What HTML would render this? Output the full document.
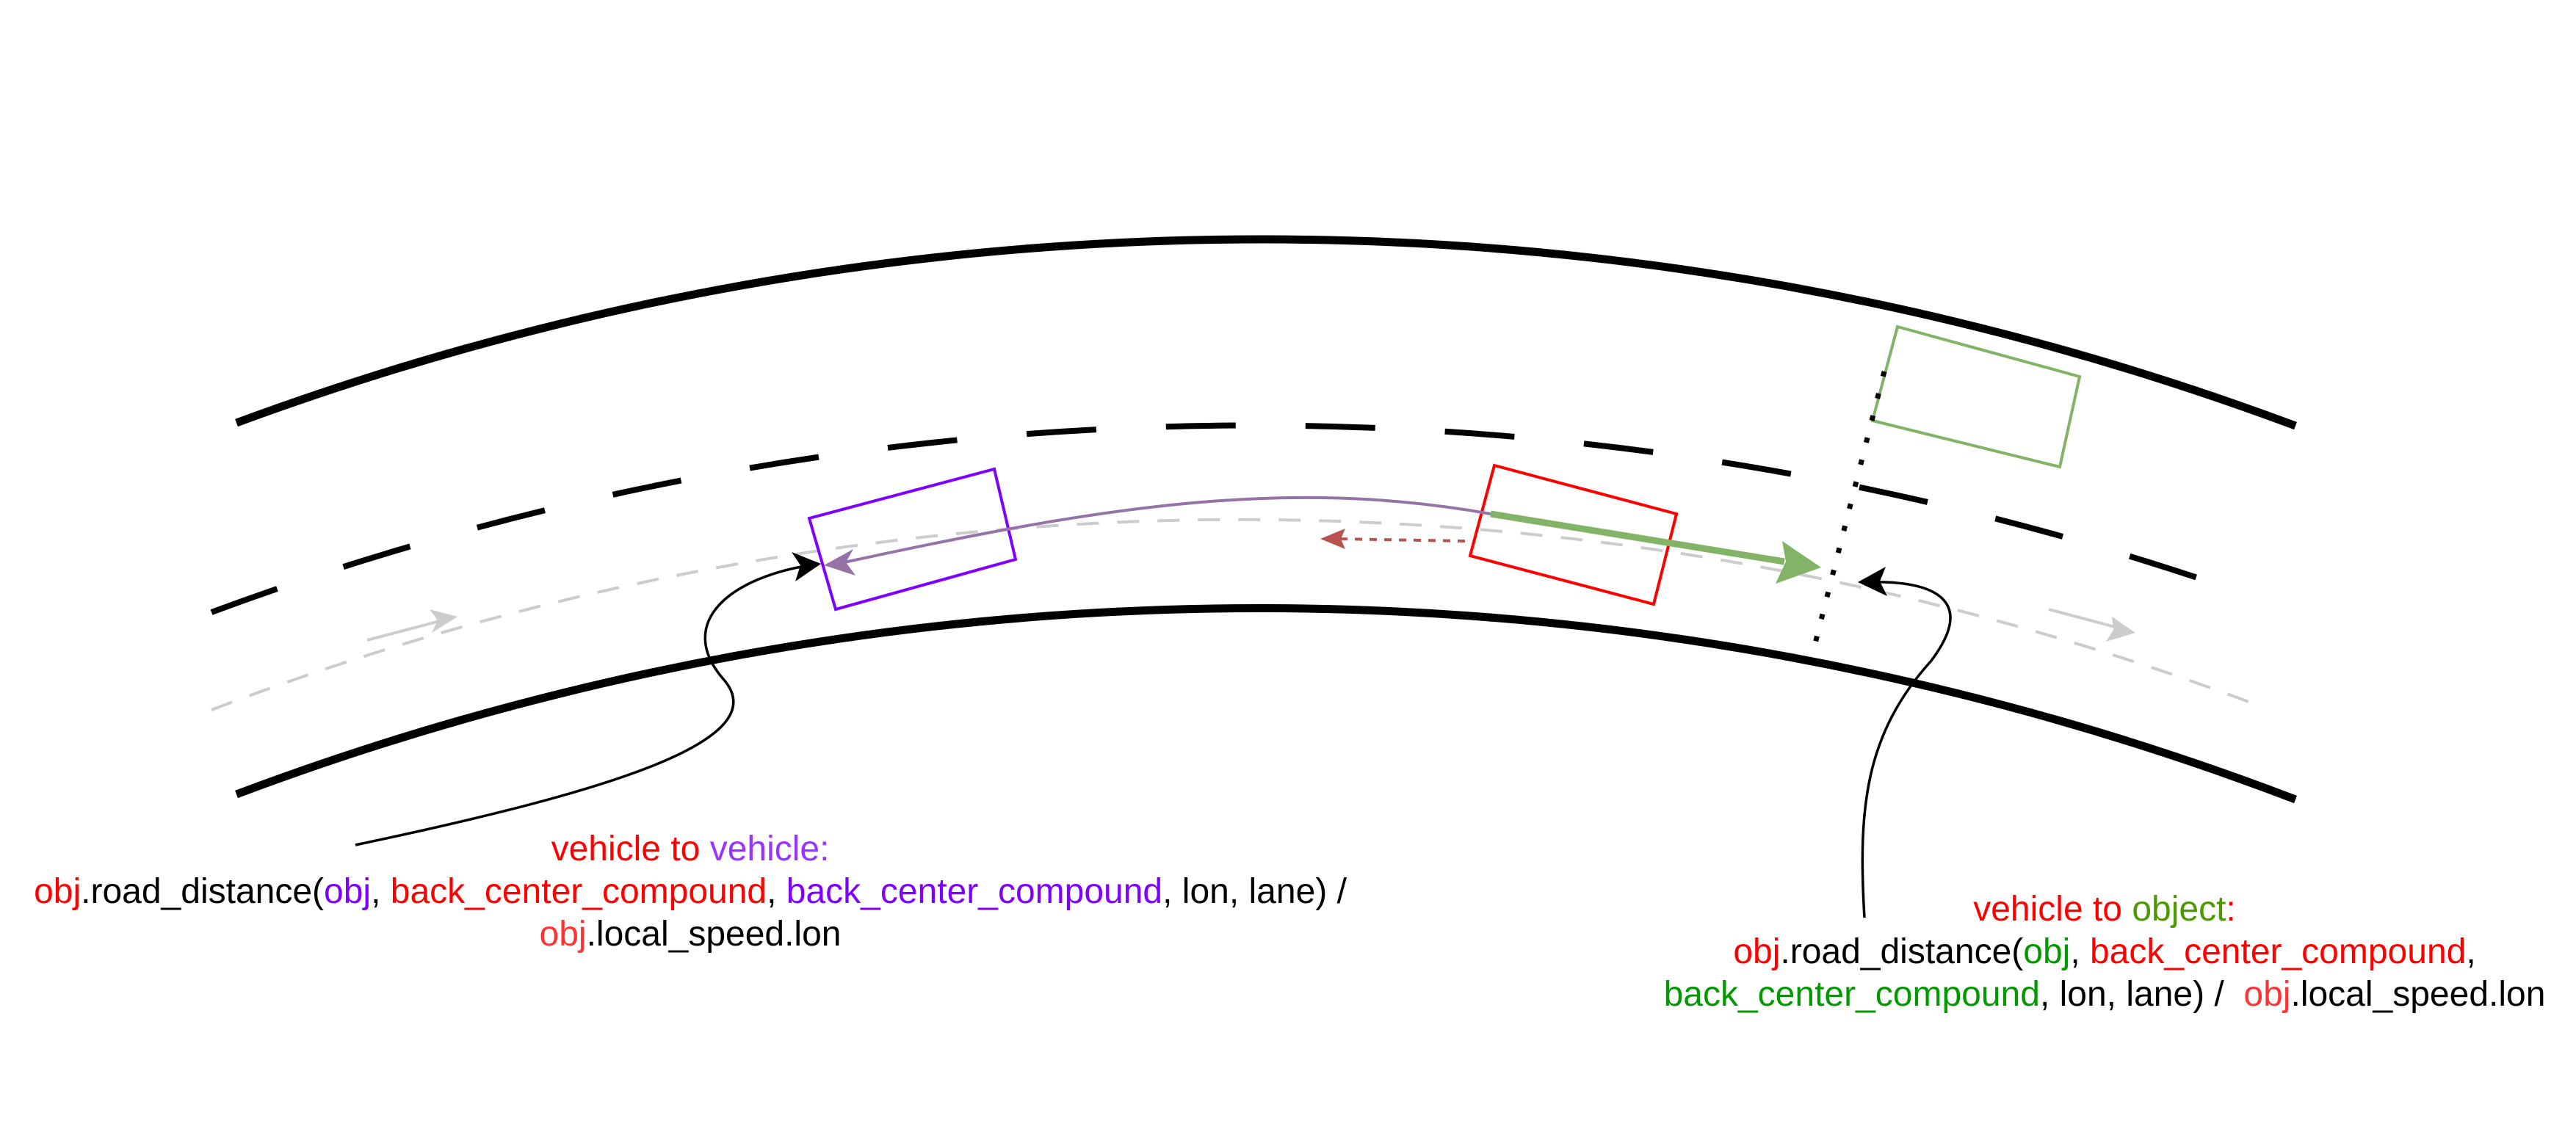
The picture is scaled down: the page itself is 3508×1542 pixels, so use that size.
<!DOCTYPE html>
<html><head><meta charset="utf-8"><style>
html,body{margin:0;padding:0;background:#fff;width:3508px;height:1542px;overflow:hidden}
svg{position:absolute;left:0;top:0}
.t{position:absolute;font-family:"Liberation Sans",sans-serif;font-size:48px;color:#000;text-align:center;line-height:58px;white-space:nowrap}
.r{color:#ff0000}.p{color:#7f00ff}.lp{color:#9933ff}.g{color:#009900}.og{color:#4d9900}.lr{color:#ff3333}
</style></head><body>
<svg width="3508" height="1542" viewBox="0 0 3508 1542">
<path d="M322,576 A4026,4026 0 0 1 3126,580" fill="none" stroke="#000" stroke-width="11"/>
<path d="M322,1082 A3953,3953 0 0 1 3126,1089" fill="none" stroke="#000" stroke-width="11"/>
<path d="M288,834 A4083,4083 0 0 1 3025,798" fill="none" stroke="#000" stroke-width="8" stroke-dasharray="95,95"/>
<path d="M288,967 A3920,3920 0 0 1 3081,963" fill="none" stroke="#cccccc" stroke-width="4" stroke-dasharray="30,25"/>
<path d="M500,872 L610,843" stroke="#cccccc" stroke-width="4"/>
<path d="M623,840 L588,862 L596,845 L585,830z" fill="#cccccc"/>
<path d="M2790,830 L2895,858" stroke="#cccccc" stroke-width="4"/>
<path d="M2908,862 L2868,874 L2878,858 L2876,840z" fill="#cccccc"/>
<polygon points="1102,706 1354,639 1383,762 1138,830" fill="none" stroke="#7f00ff" stroke-width="4"/>
<polygon points="2035,634 2283,700 2252,823 2002,757" fill="none" stroke="#ff0000" stroke-width="4"/>
<polygon points="2584,445 2832,513 2805,636 2550,573" fill="none" stroke="#82b366" stroke-width="4"/>
<path d="M2566,506 L2470,884" stroke="#000" stroke-width="7" stroke-dasharray="7,24"/>
<path d="M2030,700 C1750,650 1500,690 1150,766" fill="none" stroke="#9673a6" stroke-width="4"/>
<path d="M1122,770 L1162,748 L1152,766 L1165,784z" fill="#9673a6"/>
<path d="M2030,700 L2430,765" stroke="#82b366" stroke-width="9"/>
<path d="M2480,773 L2418,795 L2432,765 L2427,737z" fill="#82b366"/>
<path d="M1995,737 L1820,734" stroke="#b85450" stroke-width="4" stroke-dasharray="10,10"/>
<path d="M1798,734 L1832,720 L1826,734 L1832,748z" fill="#b85450"/>
<path d="M484,1151 C820,1080 1060,1010 985,925 C920,850 990,785 1115,768" fill="none" stroke="#000" stroke-width="3.5"/>
<path d="M1118,768 L1083,792 L1090,770 L1078,752z" fill="#000"/>
<path d="M2539,1250 C2530,1100 2540,1000 2630,900 C2690,820 2640,790 2540,793" fill="none" stroke="#000" stroke-width="3.5"/>
<path d="M2530,793 L2568,772 L2560,792 L2570,812z" fill="#000"/>
</svg>
<div class="t" style="left:0;width:1880px;top:1128px"><span class="r">vehicle to </span><span class="lp">vehicle:</span><br><span class="r">obj</span>.road_distance(<span class="p">obj</span>, <span class="r">back_center_compound</span>, <span class="p">back_center_compound</span>, lon, lane) /<br><span class="lr">obj</span>.local_speed.lon</div>
<div class="t" style="left:2166px;width:1400px;top:1210px"><span class="r">vehicle to </span><span class="og">object</span><span class="r">:</span><br><span class="r">obj</span>.road_distance(<span class="g">obj</span>, <span class="r">back_center_compound</span>,<br><span class="g">back_center_compound</span>, lon, lane) / &nbsp;<span class="lr">obj</span>.local_speed.lon</div>
</body></html>
